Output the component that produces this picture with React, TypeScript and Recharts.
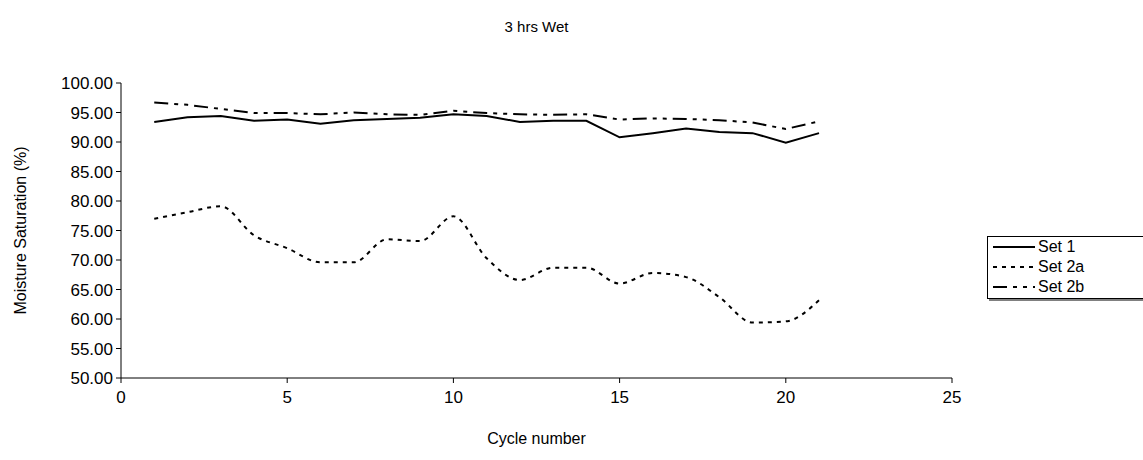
import { Line, LineChart, XAxis, YAxis } from "recharts";

/* data */

const cycles = [1, 2, 3, 4, 5, 6, 7, 8, 9, 10, 11, 12, 13, 14, 15, 16, 17, 18, 19, 20, 21];

const set1 = [
  93.4, 94.2, 94.4, 93.6, 93.8, 93.1, 93.7, 93.9, 94.1, 94.7, 94.4,
  93.4, 93.6, 93.6, 90.8, 91.5, 92.3, 91.7, 91.5, 89.9, 91.5,
];

const set2a = [
  77.0, 78.1, 79.1, 74.2, 72.0, 69.6, 69.6, 73.5, 73.2, 77.4, 70.3,
  66.6, 68.7, 68.7, 66.0, 67.8, 67.1, 63.7, 59.4, 59.6, 63.2,
];

const set2b = [
  96.7, 96.3, 95.6, 94.9, 94.9, 94.7, 95.0, 94.7, 94.6, 95.3, 94.9,
  94.7, 94.6, 94.7, 93.8, 94.0, 93.9, 93.7, 93.3, 92.2, 93.5,
];

const xTicks = [0, 5, 10, 15, 20, 25];
const yTicks = [50, 55, 60, 65, 70, 75, 80, 85, 90, 95, 100];

const data = cycles.map((c, i) => ({
  cycle: c,
  set1: set1[i],
  set2a: set2a[i],
  set2b: set2b[i],
}));

/* styles */

const FONT = "'Liberation Sans', Arial, sans-serif";
const AXIS = "#000";

const SERIES = [
  { key: "set1", label: "Set 1", dash: undefined as string | undefined, curve: "linear" as const },
  { key: "set2a", label: "Set 2a", dash: "4 5", curve: "monotone" as const },
  { key: "set2b", label: "Set 2b", dash: "14 6 4 6 4 6", curve: "linear" as const },
];

if (typeof document !== "undefined") document.body.style.margin = "0";

function LegendBox() {
  return (
    <div
      style={{
        position: "absolute",
        left: 987,
        top: 236,
        width: 150,
        border: "1px solid #000",
        boxShadow: "2px 2px 0 #808080",
        background: "#fff",
        padding: "0 0 1px 5px",
        fontSize: 16,
      }}
    >
      {SERIES.map((s) => (
        <div key={s.key} style={{ display: "flex", alignItems: "center", height: 20 }}>
          <svg width={42} height={10} style={{ marginRight: 3 }}>
            <line x1={0} y1={5} x2={42} y2={5} stroke="#000" strokeWidth={2} strokeDasharray={s.dash} />
          </svg>
          <span>{s.label}</span>
        </div>
      ))}
    </div>
  );
}

export default function App() {
  return (
    <div style={{ position: "relative", width: 1143, height: 460, background: "#fff", fontFamily: FONT }}>
      <div
        style={{
          position: "absolute",
          top: 18,
          left: 121,
          width: 831,
          textAlign: "center",
          fontSize: 15,
        }}
      >
        3 hrs Wet
      </div>
      <LineChart
        width={1143}
        height={460}
        data={data}
        margin={{ top: 83, right: 191, bottom: 0, left: 0 }}
        style={{ fontFamily: FONT }}
      >
        <XAxis
          dataKey="cycle"
          type="number"
          domain={[0, 25]}
          ticks={xTicks}
          height={82}
          tick={{ fill: "#000", fontSize: 17 }}
          tickSize={5}
          tickMargin={8}
          axisLine={{ stroke: AXIS }}
          tickLine={{ stroke: AXIS }}
          label={{ value: "Cycle number", position: "insideBottom", offset: 16, fill: "#000", fontSize: 16 }}
        />
        <YAxis
          type="number"
          domain={[50, 100]}
          ticks={yTicks}
          width={121}
          interval={0}
          tickFormatter={(v: number) => v.toFixed(2)}
          tick={{ fill: "#000", fontSize: 17 }}
          tickSize={5}
          tickMargin={3}
          axisLine={{ stroke: AXIS }}
          tickLine={{ stroke: AXIS }}
          label={{
            value: "Moisture Saturation (%)",
            angle: -90,
            position: "insideLeft",
            offset: 20,
            fill: "#000",
            fontSize: 16,
            style: { textAnchor: "middle" },
          }}
        />
        {SERIES.map((s) => (
          <Line
            key={s.key}
            type={s.curve}
            dataKey={s.key}
            name={s.label}
            stroke="#000"
            strokeWidth={2}
            strokeDasharray={s.dash}
            dot={false}
            activeDot={false}
            isAnimationActive={false}
          />
        ))}
      </LineChart>
      <LegendBox />
    </div>
  );
}
